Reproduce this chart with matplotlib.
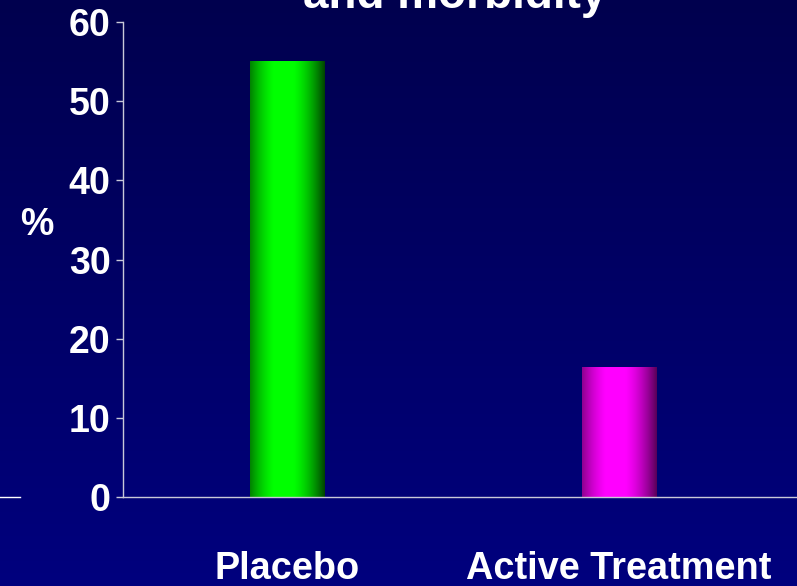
import numpy as np
import matplotlib
matplotlib.use("Agg")
import matplotlib.pyplot as plt
from matplotlib.colors import LinearSegmentedColormap
from matplotlib.lines import Line2D

categories = ["Placebo", "Active Treatment"]
values = [55, 16.3]
yticks = [0, 10, 20, 30, 40, 50, 60]
title_line = "and morbidity"

bar_colors = [("#004400", "#00ff00"), ("#580058", "#ff00ff")]
narrow = ["Liberation Sans Narrow", "Liberation Sans", "DejaVu Sans"]
wide = ["Liberation Sans", "DejaVu Sans"]

fig = plt.figure(figsize=(7.97, 5.86), dpi=100)

# navy backdrop, slightly darker at the top
bg = fig.add_axes([0, 0, 1, 1], zorder=-10)
bg_cmap = LinearSegmentedColormap.from_list("bg", ["#00004e", "#00007e"])
bg.imshow(np.linspace(0, 1, 256).reshape(-1, 1), aspect="auto", cmap=bg_cmap,
          extent=[0, 1, 0, 1])
bg.set_axis_off()

W, H = 797, 586
ax = fig.add_axes([123 / W, 1 - 497 / H, (W - 123) / W, (497 - 22) / H])
ax.patch.set_alpha(0)

xs = np.arange(len(categories))
width = 0.223
bars = ax.bar(xs, values, width=width, color="none", edgecolor="none", zorder=2)

# cylinder shading: dark edges, bright band a little left of centre
u = np.linspace(0, 1, 200)
shade = 1 - np.abs((u - 0.45) / 0.55) ** 1.8
for rect, (dark, light) in zip(bars, bar_colors):
    cmap = LinearSegmentedColormap.from_list("cyl", [dark, light])
    x0 = rect.get_x()
    ax.imshow(shade.reshape(1, -1), aspect="auto", cmap=cmap, vmin=0.0, vmax=0.92,
              extent=[x0, x0 + rect.get_width(), 0, rect.get_height()], zorder=2)

ax.set_xlim(-0.494, 1.536)
ax.set_ylim(0, 60)
ax.set_yticks(yticks)
ax.set_yticklabels([str(t) for t in yticks], family=narrow, fontsize=27,
                   fontweight="bold", color="white")
ax.set_xticks([])
ax.tick_params(axis="y", direction="out", length=5, width=1, color="#c8c8d8", pad=4)

for side in ["top", "right"]:
    ax.spines[side].set_visible(False)
for side in ["left", "bottom"]:
    ax.spines[side].set_color("#c8c8d8")
    ax.spines[side].set_linewidth(1)

for x, name in zip(xs, categories):
    ax.text(x, -82 / 475, name, transform=ax.get_xaxis_transform(), ha="center",
            va="baseline", family=wide, fontsize=27.3, fontweight="bold", color="white")

fig.text(37 / W, 1 - 225 / H, "%", ha="center", va="center", family=narrow,
         fontsize=27, fontweight="bold", color="white")

fig.text(455 / W, 1 - 8 / H, title_line, ha="center", va="baseline", family=wide,
         fontsize=33, fontweight="bold", color="white")

fig.add_artist(Line2D([0, 20 / W], [1 - 497 / H] * 2, color="white", lw=1))

fig.savefig("out.png", dpi=100)
